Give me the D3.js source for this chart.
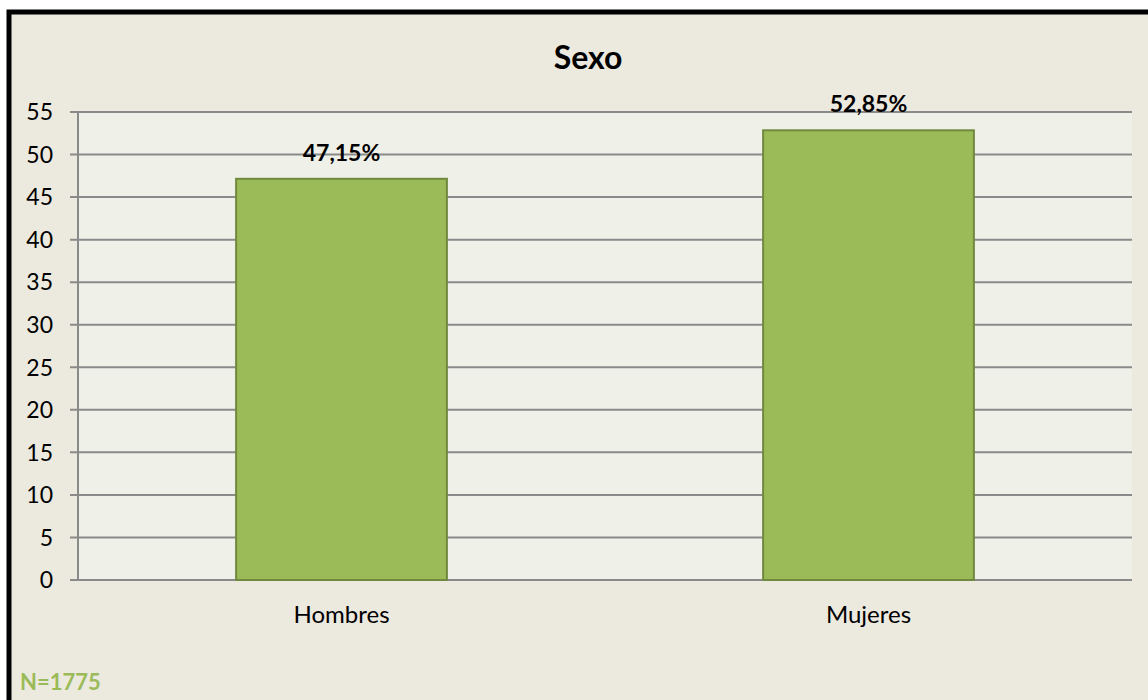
<!DOCTYPE html>
<html><head><meta charset="utf-8">
<script src="https://cdn.jsdelivr.net/npm/d3@7"></script>
<style>body{margin:0;background:#fff;}svg{display:block;font-family:Lato,"Open Sans",sans-serif;}</style>
</head><body>
<svg id="c" width="1148" height="700"></svg>
<script>
const categories = ["Hombres", "Mujeres"];
const values = [47.15, 52.85];
const valueLabels = ["47,15%", "52,85%"];
const yTicks = [0,5,10,15,20,25,30,35,40,45,50,55];
const title = "Sexo";
const note = "N=1775";

const svg = d3.select("#c");
// outer frame
svg.append("rect").attr("x",9).attr("y",12).attr("width",1200).attr("height",750)
  .attr("fill","#ECE9DF").attr("stroke","#000").attr("stroke-width",5);

const L=78, R=1132, T=112, B=580;
const x = d3.scaleBand().domain(categories).range([L,R]).paddingInner(0.6).paddingOuter(0.3);
const y = d3.scaleLinear().domain([0,55]).range([B,T]);

svg.append("rect").attr("x",L).attr("y",T).attr("width",R-L).attr("height",B-T).attr("fill","#EFF1E8");

// gridlines
svg.append("g").selectAll("line").data(yTicks).join("line")
  .attr("x1",70).attr("x2",R).attr("y1",d=>y(d)).attr("y2",d=>y(d))
  .attr("stroke","#8a8a8a").attr("stroke-width",2);
// y axis line
svg.append("line").attr("x1",L).attr("x2",L).attr("y1",T).attr("y2",B).attr("stroke","#8a8a8a").attr("stroke-width",2);

// tick labels
svg.append("g").selectAll("text").data(yTicks).join("text")
  .attr("x",53).attr("y",d=>y(d)).attr("dy","0.36em").attr("text-anchor","end")
  .attr("font-size",23).attr("fill","#000").text(d=>d);

// bars
svg.append("g").selectAll("rect").data(values).join("rect")
  .attr("x",(d,i)=>x(categories[i])).attr("width",x.bandwidth())
  .attr("y",d=>y(d)).attr("height",d=>B-y(d))
  .attr("fill","#9BBB59").attr("stroke","#71893F").attr("stroke-width",2);

// value labels
svg.append("g").selectAll("text").data(values).join("text")
  .attr("x",(d,i)=>x(categories[i])+x.bandwidth()/2).attr("y",d=>y(d)-18)
  .attr("text-anchor","middle").attr("font-size",23).attr("font-weight","bold").text((d,i)=>valueLabels[i]);

// category labels
svg.append("g").selectAll("text").data(categories).join("text")
  .attr("x",d=>x(d)+x.bandwidth()/2).attr("y",623).attr("text-anchor","middle")
  .attr("font-size",24).text(d=>d);

svg.append("text").attr("x",588).attr("y",69).attr("text-anchor","middle")
  .attr("font-size",32).attr("font-weight","bold").text(title);

svg.append("text").attr("x",20).attr("y",690).attr("font-size",22).attr("font-weight","bold")
  .attr("fill","#9BBB59").text(note);
</script>
</body></html>
